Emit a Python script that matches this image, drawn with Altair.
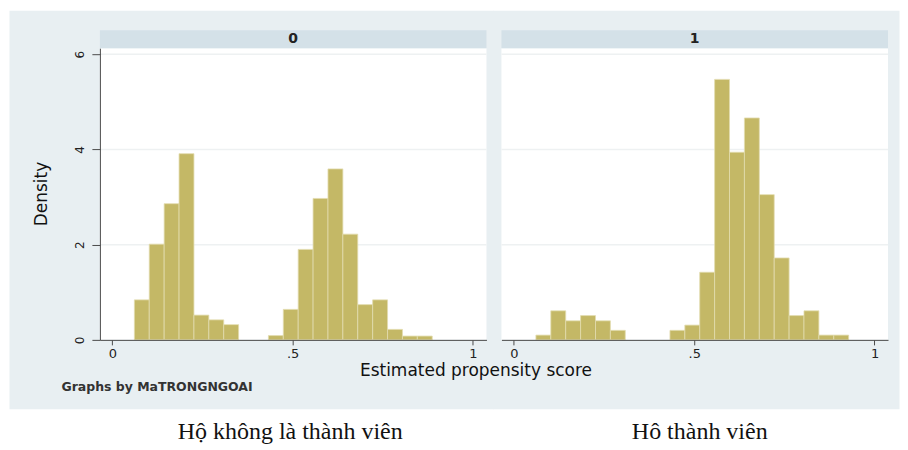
import altair as alt
import pandas as pd

# ---- data ----
bin_start = 0.061
bin_width = 0.0413

panel_labels = ["0", "1"]

p0_bins = [0, 1, 2, 3, 4, 5, 6, 9, 10, 11, 12, 13, 14, 15, 16, 17, 18, 19]
p0_density = [0.84, 2.01, 2.86, 3.91, 0.52, 0.42, 0.32,
              0.09, 0.64, 1.90, 2.97, 3.59, 2.22, 0.74, 0.84, 0.22, 0.08, 0.08]

p1_bins = [0, 1, 2, 3, 4, 5, 9, 10, 11, 12, 13, 14, 15, 16, 17, 18, 19, 20]
p1_density = [0.10, 0.61, 0.40, 0.51, 0.40, 0.20,
              0.20, 0.31, 1.42, 5.47, 3.94, 4.66, 3.05, 1.72, 0.51, 0.61, 0.10, 0.10]

y_ticks = [0, 2, 4, 6]
x_ticks = [0, 0.5, 1]

y_title = "Density"
x_title = "Estimated propensity score"
note = "Graphs by MaTRONGNGOAI"
captions = ["Hộ không là thành viên", "Hô thành viên"]

# ---- style ----
BG = "#e8eff2"
HEADER = "#d4e1e8"
BAR = "#c4b866"
BAR_EDGE = "#e2dcae"
GRID = "#eef1f2"
AXIS = "#4a4a4a"
FONT = "DejaVu Sans"

W, H = 387, 292
xscale = alt.Scale(domain=[-0.0346, 1.0374], nice=False, zero=False)
yscale = alt.Scale(domain=[0, 6.125], nice=False)

one = pd.DataFrame({"k": [0]})


def hist_df(bins, dens):
    return pd.DataFrame({
        "lo": [bin_start + b * bin_width for b in bins],
        "hi": [bin_start + (b + 1) * bin_width for b in bins],
        "base": [0.0] * len(bins),
        "density": dens,
    })


def make_panel(idx, bins, dens):
    left = idx == 0
    xaxis = alt.Axis(values=x_ticks, title=None, grid=False, tickSize=5,
                     labelPadding=3, labelFont=FONT, labelFontSize=13,
                     labelColor="#222", domainColor=AXIS, tickColor=AXIS,
                     labelExpr="datum.value == 0 ? '0' : (datum.value == 1 ? '1' : '.5')",
                     zindex=1)
    if left:
        yaxis = alt.Axis(values=y_ticks, format="d", title=None, grid=False,
                         tickSize=8, labelPadding=12, labelAngle=270,
                         labelAlign="center", labelBaseline="middle",
                         labelFont=FONT, labelFontSize=12, labelColor="#222",
                         domainColor=AXIS, tickColor=AXIS, zindex=1)
    else:
        yaxis = alt.Axis(values=y_ticks, title=None, grid=False, labels=False,
                         ticks=False, domain=False, zindex=1)

    if left:
        bx0, bx1 = -90.5, W + 7.5
    else:
        bx0, bx1 = -8, 398.5

    bg = alt.Chart(one).mark_rect(color=BG).encode(
        x=alt.value(bx0), x2=alt.value(bx1), y=alt.value(-37.5), y2=alt.value(361.5))
    plot_bg = alt.Chart(one).mark_rect(color="white").encode(
        x=alt.value(0), x2=alt.value(W), y=alt.value(0), y2=alt.value(H))
    grid = alt.Chart(pd.DataFrame({"v": y_ticks[1:]})).mark_rule(
        color=GRID, strokeWidth=1.5).encode(
        y=alt.Y("v:Q", scale=yscale, axis=yaxis))
    bars = alt.Chart(hist_df(bins, dens)).mark_rect(
        color=BAR, stroke=BAR_EDGE, strokeWidth=0.8).encode(
        x=alt.X("lo:Q", scale=xscale, axis=xaxis),
        x2="hi:Q",
        y=alt.Y("density:Q", scale=yscale, axis=yaxis),
        y2="base:Q",
    )
    header = alt.Chart(one).mark_rect(color=HEADER).encode(
        x=alt.value(0), x2=alt.value(W), y=alt.value(-18), y2=alt.value(0))
    header_txt = alt.Chart(one).mark_text(
        text=panel_labels[idx], font=FONT, fontSize=14, fontWeight="bold",
        color="#222", baseline="middle", align="center").encode(
        x=alt.value(W / 2), y=alt.value(-9))

    layers = [bg, plot_bg, grid, bars, header, header_txt]

    if left:
        layers.append(alt.Chart(one).mark_text(
            text=y_title, font=FONT, fontSize=17, angle=270, color="#111",
            baseline="middle", align="center").encode(
            x=alt.value(-57.5), y=alt.value(H / 2)))
        layers.append(alt.Chart(one).mark_text(
            text=note, font=FONT, fontSize=12.5, fontWeight="bold", color="#333",
            baseline="middle", align="left").encode(
            x=alt.value(-38.5), y=alt.value(339.5)))
        layers.append(alt.Chart(one).mark_text(
            text=captions[0], font="Liberation Serif", fontSize=24, color="#111",
            baseline="alphabetic", align="center").encode(
            x=alt.value(190.5), y=alt.value(391)))
    else:
        layers.append(alt.Chart(one).mark_text(
            text=x_title, font=FONT, fontSize=17, color="#111",
            baseline="middle", align="center").encode(
            x=alt.value(-25.5), y=alt.value(323.5)))
        layers.append(alt.Chart(one).mark_text(
            text=captions[1], font="Liberation Serif", fontSize=24, color="#111",
            baseline="alphabetic", align="center").encode(
            x=alt.value(198.5), y=alt.value(391)))

    return alt.layer(*layers).properties(width=W, height=H)


p0 = make_panel(0, p0_bins, p0_density)
p1 = make_panel(1, p1_bins, p1_density)

chart = alt.hconcat(p0, p1, spacing=15, bounds="flush").properties(
    padding={"left": 1, "top": 2, "right": 0, "bottom": 0},
    background="white",
).configure_view(stroke=None)

chart.save("out.html", embed_options={"renderer": "svg", "actions": False})
